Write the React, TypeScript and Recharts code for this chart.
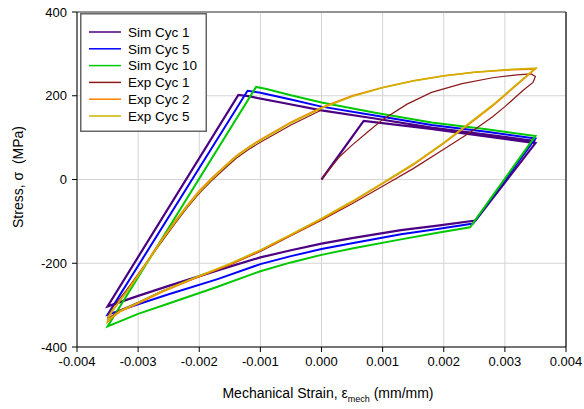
import React from "react";
import {
  CartesianGrid,
  Label,
  Legend,
  Line,
  LineChart,
  ReferenceLine,
  XAxis,
  YAxis,
} from "recharts";

const FONT = '"Liberation Sans", Arial, sans-serif';

const xTicks = [-0.004, -0.003, -0.002, -0.001, 0, 0.001, 0.002, 0.003, 0.004];
const yTicks = [-400, -200, 0, 200, 400];

// [strain (mm/mm), stress (MPa)]
const simCyc1: [number, number][] = [
  [0, 0], [0.00069, 140], [0.00179, 121], [0.0035, 87],
  [0.00252, -98], [0.0019, -110], [0.0013, -121], [0.0005, -140], [0, -153],
  [-0.0005, -169], [-0.001, -186], [-0.0017, -217], [-0.0025, -254], [-0.003, -278], [-0.0035, -303],
  [-0.00136, 202], [-0.0012, 199], [-0.0006, 182], [0, 165], [0.0009, 145], [0.0018, 124],
  [0.0027, 107], [0.0035, 92],
];

const simCyc5: [number, number][] = [
  [0, 174], [0.0009, 152], [0.0018, 130], [0.0027, 114], [0.0035, 98],
  [0.00248, -105], [0.0019, -118], [0.0013, -131], [0.0005, -152], [0, -166],
  [-0.0005, -183], [-0.001, -202], [-0.0017, -238], [-0.0025, -274], [-0.003, -298], [-0.0035, -323],
  [-0.00121, 212], [-0.001, 207], [-0.0005, 191], [0, 174],
];

const simCyc10: [number, number][] = [
  [0, 184], [0.0009, 159], [0.0018, 136], [0.0027, 120], [0.0035, 104],
  [0.00243, -114], [0.0019, -127], [0.0013, -143], [0.0005, -165], [0, -180],
  [-0.0005, -198], [-0.001, -219], [-0.0017, -256], [-0.0025, -296], [-0.003, -321], [-0.0035, -351],
  [-0.00107, 221], [-0.0009, 216], [-0.0005, 201], [0, 184],
];

const expCyc1: [number, number][] = [
  [0, 0], [0.0001, 19], [0.0003, 55], [0.0005, 82], [0.00075, 113], [0.001, 143], [0.0014, 180],
  [0.0018, 208], [0.0023, 229], [0.0028, 243], [0.0032, 250], [0.00343, 252], [0.0035, 246],
  [0.00346, 232], [0.0033, 213], [0.003, 174], [0.0028, 150], [0.0025, 119], [0.002, 72],
  [0.0015, 26], [0.001, -16], [0.0005, -58], [0, -97], [-0.0005, -134], [-0.001, -172],
  [-0.0015, -204], [-0.002, -232], [-0.0026, -266], [-0.003, -293], [-0.0033, -312],
  [-0.00345, -328], [-0.0035, -333], [-0.00348, -320], [-0.0034, -302], [-0.0032, -266],
  [-0.003, -226], [-0.0028, -186], [-0.0026, -146], [-0.0024, -106], [-0.0022, -68],
  [-0.002, -33], [-0.0018, -3], [-0.0016, 24], [-0.0014, 50], [-0.0012, 71], [-0.001, 89],
  [-0.0005, 130], [0, 166],
];

const expCyc2: [number, number][] = [
  [0, 172], [0.0005, 200], [0.001, 220], [0.0015, 236], [0.002, 248], [0.0025, 256], [0.003, 261],
  [0.0035, 264], [0.0033, 239], [0.003, 201], [0.0028, 176], [0.0025, 142], [0.002, 86],
  [0.0015, 35], [0.001, -10], [0.0005, -54], [0, -95], [-0.0005, -133], [-0.001, -170],
  [-0.0015, -203], [-0.002, -232], [-0.0026, -268], [-0.003, -296], [-0.0033, -316],
  [-0.00345, -333], [-0.0035, -340], [-0.00348, -328], [-0.0034, -310], [-0.0032, -270],
  [-0.003, -228], [-0.0028, -184], [-0.0026, -140], [-0.0024, -100], [-0.0022, -62],
  [-0.002, -27], [-0.0018, 3], [-0.0016, 30], [-0.0014, 56], [-0.0012, 77], [-0.001, 95],
  [-0.0005, 137], [0, 172],
];

const expCyc5: [number, number][] = [
  [0, 170], [0.0005, 198], [0.001, 219], [0.0015, 235], [0.002, 247], [0.0025, 256], [0.003, 262],
  [0.0035, 266], [0.0033, 241], [0.003, 203], [0.0028, 178], [0.0025, 144], [0.002, 88],
  [0.0015, 37], [0.001, -8], [0.0005, -52], [0, -93], [-0.0005, -131], [-0.001, -168],
  [-0.0015, -201], [-0.002, -230], [-0.0026, -266], [-0.003, -294], [-0.0033, -314],
  [-0.00345, -331], [-0.0035, -338], [-0.00348, -326], [-0.0034, -309], [-0.0032, -271],
  [-0.003, -230], [-0.0028, -187], [-0.0026, -143], [-0.0024, -103], [-0.0022, -65],
  [-0.002, -30], [-0.0018, 0], [-0.0016, 28], [-0.0014, 54], [-0.0012, 75], [-0.001, 93],
  [-0.0005, 135], [0, 170],
];

const seriesNames = ["Sim Cyc 1", "Sim Cyc 5", "Sim Cyc 10", "Exp Cyc 1", "Exp Cyc 2", "Exp Cyc 5"];
const seriesData = [simCyc1, simCyc5, simCyc10, expCyc1, expCyc2, expCyc5];
const seriesColors = ["#4B0082", "#0000FF", "#00C800", "#8B1A1A", "#FF8000", "#CCB400"];
const seriesWidths = [2.2, 2, 2, 1.2, 1.5, 1.5];

const series = seriesNames.map((name, i) => ({
  name,
  color: seriesColors[i],
  width: seriesWidths[i],
  data: seriesData[i].map(([x, y]) => ({ x, y })),
}));

function LegendBox() {
  return (
    <svg width={127} height={119} style={{ display: "block" }}>
      <rect x={0.75} y={0.75} width={125.5} height={117.5} fill="#fff" stroke="#666" strokeWidth={1.5} />
      {series.map((s, i) => {
        const cy = 19 + i * 16.8;
        return (
          <g key={s.name}>
            <line x1={9} x2={41} y1={cy} y2={cy} stroke={s.color} strokeWidth={1.5} />
            <text x={48} y={cy} dy="0.35em" fontSize={13.5} fontFamily={FONT} fill="#000">
              {s.name}
            </text>
          </g>
        );
      })}
    </svg>
  );
}

const tickStyle = { fontSize: 13, fill: "#000", fontFamily: FONT };

export default function App() {
  return (
    <div style={{ position: "absolute", left: 0, top: 0, background: "#fff" }}>
      <LineChart width={584} height={409} margin={{ top: 12, right: 18, bottom: 0, left: 0 }}>
        <CartesianGrid stroke="#d4d4d4" />
        <XAxis
          type="number"
          dataKey="x"
          domain={[-0.004, 0.004]}
          ticks={xTicks}
          allowDataOverflow
          height={62}
          tick={tickStyle}
          tickFormatter={(v: number) => v.toFixed(3)}
          tickSize={5}
          tickMargin={5}
          stroke="#000"
        >
          <Label
            content={() => (
              <text x={328} y={398} textAnchor="middle" fontSize={14} fontFamily={FONT} fill="#000">
                Mechanical Strain, ε
                <tspan fontSize={9} dy={4}>mech</tspan>
                <tspan dy={-4}> (mm/mm)</tspan>
              </text>
            )}
          />
        </XAxis>
        <YAxis
          type="number"
          domain={[-400, 400]}
          ticks={yTicks}
          allowDataOverflow
          width={77}
          tick={tickStyle}
          tickSize={5}
          tickMargin={5}
          stroke="#000"
        >
          <Label
            content={() => (
              <text
                x={23}
                y={177}
                transform="rotate(-90 23 177)"
                textAnchor="middle"
                fontSize={14}
                fontFamily={FONT}
                fill="#000"
              >
                Stress, σ{"\u00A0"} (MPa)
              </text>
            )}
          />
        </YAxis>
        <ReferenceLine y={400} stroke="#777" strokeWidth={1.5} />
        <ReferenceLine x={0.004} stroke="#333" strokeWidth={1.5} />
        {series.map((s) => (
          <Line
            key={s.name}
            name={s.name}
            data={s.data}
            dataKey="y"
            type="linear"
            stroke={s.color}
            strokeWidth={s.width}
            dot={false}
            activeDot={false}
            isAnimationActive={false}
          />
        ))}
        <Legend
          layout="horizontal"
          align="center"
          verticalAlign="middle"
          wrapperStyle={{ left: 80, top: 13, width: 127, height: 119 }}
          content={() => <LegendBox />}
        />
      </LineChart>
    </div>
  );
}
